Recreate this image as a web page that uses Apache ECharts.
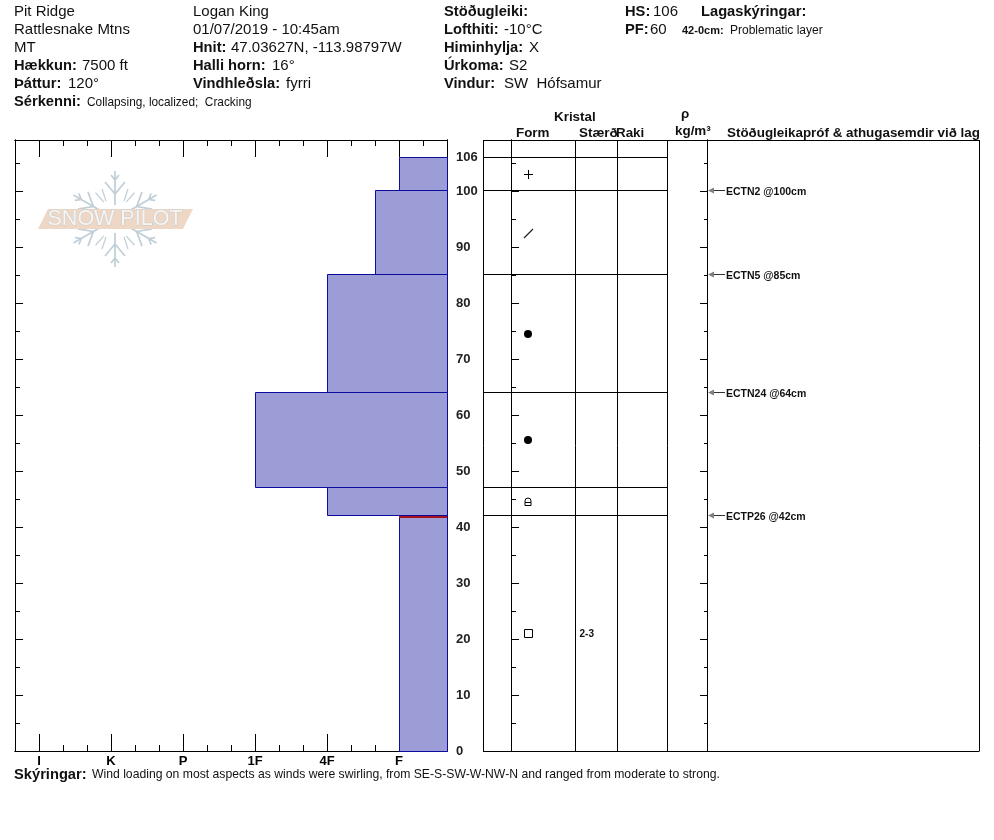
<!DOCTYPE html>
<html>
<head>
<meta charset="utf-8">
<style>
  html, body { margin: 0; padding: 0; background: #fff; }
  #chart { width: 994px; height: 840px; }
</style>
<script src="https://cdn.jsdelivr.net/npm/echarts@6/dist/echarts.min.js"></script>
</head>
<body>
<div id="chart"></div>
<script>
// snow layers, top to bottom (cm), hardness in thirds of a hand hardness step
const layerTop = [106, 100, 85, 64, 47, 42];
const layerBottom = [100, 85, 64, 47, 42, 0];
const layerHardness = [16, 15, 13, 10, 13, 16];
const layerForm = ["PP", "DF", "RG", "RG", "FCxr", "FC"];
const layerSize = ["", "", "", "", "", "2-3"];
const problemDepth = 42;

// stability tests
const testDepth = [100, 85, 64, 42];
const testLabel = ["ECTN2 @100cm", "ECTN5 @85cm", "ECTN24 @64cm", "ECTP26 @42cm"];

// axes
const hardnessTicks = [1, 4, 7, 10, 13, 16];
const hardnessLabels = ["I", "K", "P", "1F", "4F", "F"];
const hardnessMinor = [0, 2, 3, 5, 6, 8, 9, 11, 12, 14, 15, 17, 18];
const depthMajor = [0, 10, 20, 30, 40, 50, 60, 70, 80, 90, 100];
const depthMinor = [5, 15, 25, 35, 45, 55, 65, 75, 85, 95, 105];
const depthLabels = [0, 10, 20, 30, 40, 50, 60, 70, 80, 90, 100, 106];
const tableColumns = [0, 28, 92, 134, 184, 224, 496];

const DEPTH_MAX = 109.1;
const HARD_MAX = 18;
const TABLE_MAX = 496;
const FORM_X = 45;
const SIZE_X = 97;
const RHO_X = 224;

const BLACK = "#000";
const font = "Liberation Sans, Arial, sans-serif";

function hardnessAxis(position, ticks, len, labels) {
  return {
    type: "value", gridIndex: 0, position: position, min: 0, max: HARD_MAX,
    axisLine: { show: true, onZero: false, lineStyle: { color: BLACK, width: 1 } },
    axisTick: { show: true, inside: true, length: len, customValues: ticks, lineStyle: { color: BLACK } },
    splitLine: { show: false },
    axisLabel: labels ? {
      show: true, customValues: hardnessTicks, margin: 4, color: BLACK, fontFamily: font,
      fontWeight: "bold", fontSize: 13,
      formatter: (v) => hardnessLabels[hardnessTicks.indexOf(v)],
    } : { show: false },
  };
}

function depthAxis(grid, position, offset, ticks, len, labels) {
  return {
    type: "value", gridIndex: grid, position: position, offset: offset, min: 0, max: DEPTH_MAX,
    axisLine: { show: true, onZero: false, lineStyle: { color: BLACK, width: 1 } },
    axisTick: { show: true, inside: true, length: len, customValues: ticks, lineStyle: { color: BLACK } },
    splitLine: { show: false },
    axisLabel: labels ? {
      show: true, customValues: depthLabels, margin: 9, color: "#222", fontFamily: font,
      fontWeight: "bold", fontSize: 13, padding: [3, 0, 0, 0], formatter: (v) => String(v),
    } : { show: false },
  };
}

function line(p1, p2, color, width) {
  return {
    type: "line",
    shape: { x1: p1[0], y1: p1[1], x2: p2[0], y2: p2[1] },
    style: { stroke: color || BLACK, lineWidth: width || 1 },
  };
}

function renderLayer(params, api) {
  const i = api.value(0);
  const a = api.coord([layerHardness[i], layerTop[i]]);
  const b = api.coord([HARD_MAX, layerBottom[i]]);
  const x = Math.round(a[0]) + 0.5;
  const y = Math.floor(a[1]) + 0.5;
  return {
    type: "rect",
    shape: { x: x, y: y, width: Math.round(b[0]) + 0.5 - x, height: Math.floor(b[1]) + 0.5 - y },
    style: { fill: "#9c9cd6", stroke: "#0c0c9c", lineWidth: 1 },
  };
}

function renderProblem(params, api) {
  const i = layerBottom.indexOf(problemDepth) + 1;
  const a = api.coord([layerHardness[i], problemDepth]);
  const b = api.coord([HARD_MAX, problemDepth]);
  const y = Math.floor(a[1]) + 2;
  return line([a[0], y], [b[0], y], "#a8101c", 2);
}

function renderColumn(params, api) {
  const x = tableColumns[api.value(0)];
  const a = api.coord([x, 0]);
  const b = api.coord([x, DEPTH_MAX]);
  return line([Math.round(a[0]) + 0.5, a[1]], [Math.round(b[0]) + 0.5, b[1]]);
}

// horizontal table rule: [depth, right end]
function renderRow(params, api) {
  const a = api.coord([tableColumns[0], api.value(0)]);
  const b = api.coord([api.value(1), api.value(0)]);
  const y = Math.floor(a[1]) + 0.5;
  return line([a[0], y], [b[0] + 0.5, y]);
}

function renderForm(params, api) {
  const i = api.value(0);
  const mid = (layerTop[i] + layerBottom[i]) / 2;
  const p = api.coord([FORM_X, mid]);
  const x = Math.round(p[0]);
  const y = Math.round(p[1]);
  const form = layerForm[i];
  const kids = [];
  if (form === "PP") {
    kids.push(line([x - 4, y + 0.5], [x + 5, y + 0.5]), line([x + 0.5, y - 4], [x + 0.5, y + 5]));
  } else if (form === "DF") {
    kids.push(line([x - 4, y + 5], [x + 5, y - 4], "#222", 1.3));
  } else if (form === "RG") {
    kids.push({ type: "circle", shape: { cx: x, cy: y, r: 4 }, style: { fill: BLACK } });
  } else if (form === "FCxr") {
    kids.push({
      type: "path",
      shape: { pathData: `M${x - 3},${y + 3.5}V${y - 1}Q${x - 3},${y - 4} ${x},${y - 4}Q${x + 3},${y - 4} ${x + 3},${y - 1}V${y + 3.5}ZM${x - 3},${y + 0.5}H${x + 3}` },
      style: { fill: "none", stroke: BLACK, lineWidth: 1 },
    });
  } else if (form === "FC") {
    kids.push({ type: "rect", shape: { x: x - 3.5, y: y - 3.5, width: 8, height: 8 }, style: { fill: "#fff", stroke: BLACK, lineWidth: 1 } });
  }
  if (layerSize[i]) {
    const s = api.coord([SIZE_X - 0.5, mid]);
    kids.push({
      type: "text", x: s[0], y: s[1] + 1,
      style: { text: layerSize[i], font: `bold 10px ${font}`, fill: "#111", textVerticalAlign: "middle" },
    });
  }
  return { type: "group", children: kids };
}

function renderTest(params, api) {
  const i = api.value(0);
  const p = api.coord([tableColumns[5], testDepth[i]]);
  const x = p[0];
  const y = Math.floor(p[1]) + 0.5;
  return {
    type: "group",
    children: [
      { type: "polygon", shape: { points: [[x + 1, y], [x + 7, y - 3], [x + 7, y + 3]] }, style: { fill: "#808080" } },
      line([x + 7, y], [x + 18, y], "#333"),
      {
        type: "text", x: x + 19, y: y + 1.5,
        style: { text: testLabel[i], font: `bold 10.5px ${font}`, fill: "#111", textVerticalAlign: "middle" },
      },
    ],
  };
}

function indexes(arr) {
  return arr.map((_, i) => [i]);
}

function txt(x, y, text, weight, size) {
  const sz = size || (weight === "bold" ? 14.7 : 15);
  return {
    type: "text", x: x, y: y, silent: true,
    style: { text: text, font: `${weight || "normal"} ${sz}px ${font}`, fill: "#111", textVerticalAlign: "middle" },
  };
}

// snowflake arm, pointing up from the logo centre
function flakeArm(deg) {
  const c = "#c0ced6";
  const seg = (x1, y1, x2, y2, w) => ({
    type: "line", shape: { x1, y1, x2, y2 }, style: { stroke: c, lineWidth: w || 1.7 },
  });
  return {
    type: "group", rotation: (deg * Math.PI) / 180,
    children: [
      seg(0, -14, 0, -48),
      seg(0, -25, -10, -37), seg(0, -25, 10, -37),
      seg(0, -39, -4, -44), seg(0, -39, 4, -44),
      seg(-9, -18, -13, -30, 1.2), seg(9, -18, 13, -30, 1.2),
    ],
  };
}

const logo = {
  type: "group", x: 115, y: 219, silent: true, z: 0,
  children: [
    ...[0, 60, 120, 180, 240, 300].map(flakeArm),
    {
      type: "polygon",
      shape: { points: [[-67, -10], [78, -10], [68, 10], [-77, 10]] },
      style: { fill: "#eed7c5" },
    },
    {
      type: "text", x: 0, y: 0,
      style: {
        text: "SNOW PILOT", font: `21.5px ${font}`, fill: "#f7f4f1", stroke: "#c5ccd0", lineWidth: 1,
        align: "center", verticalAlign: "middle",
      },
    },
  ],
};

const headerText = [
  txt(14, 12, "Pit Ridge"),
  txt(14, 30, "Rattlesnake Mtns"),
  txt(14, 48, "MT"),
  txt(14, 66, "Hækkun:", "bold"), txt(82, 66, "7500 ft"),
  txt(14, 84, "Þáttur:", "bold"), txt(68, 84, "120°"),
  txt(14, 102, "Sérkenni:", "bold"), txt(87, 103, "Collapsing, localized;  Cracking", "normal", 11.85),

  txt(193, 12, "Logan King"),
  txt(193, 30, "01/07/2019 - 10:45am"),
  txt(193, 48, "Hnit:", "bold"), txt(231, 48, "47.03627N, -113.98797W"),
  txt(193, 66, "Halli horn:", "bold"), txt(272, 66, "16°"),
  txt(193, 84, "Vindhleðsla:", "bold"), txt(286, 84, "fyrri"),

  txt(444, 12, "Stöðugleiki:", "bold"),
  txt(444, 30, "Lofthiti:", "bold"), txt(504, 30, "-10°C"),
  txt(444, 48, "Himinhylja:", "bold"), txt(529, 48, "X"),
  txt(444, 66, "Úrkoma:", "bold"), txt(509, 66, "S2"),
  txt(444, 84, "Vindur:", "bold"), txt(504, 84, "SW  Hófsamur"),

  txt(625, 12, "HS:", "bold"), txt(653, 12, "106"),
  txt(701, 12, "Lagaskýringar:", "bold"),
  txt(625, 30, "PF:", "bold"), txt(650, 30, "60"),
  txt(682, 31, "42-0cm:", "bold", 11), txt(730, 31, "Problematic layer", "normal", 12),

  txt(554, 117, "Kristal", "bold", 13.4),
  txt(516, 133, "Form", "bold", 13.4),
  txt(579, 133, "Stærð", "bold", 13.4),
  txt(616, 133, "Raki", "bold", 13.4),
  txt(681, 114, "ρ", "bold", 13.4),
  txt(675, 131, "kg/m³", "bold", 13.4),
  txt(727, 133, "Stöðugleikapróf & athugasemdir við lag", "bold", 13.4),

  txt(14, 775, "Skýringar:", "bold"),
  txt(92, 775, "Wind loading on most aspects as winds were swirling, from SE-S-SW-W-NW-N and ranged from moderate to strong.", "normal", 12.2),
];

const chart = echarts.init(document.getElementById("chart"), null, { renderer: "canvas" });
chart.setOption({
  animation: false,
  backgroundColor: "#fff",
  grid: [
    { left: 15, top: 140, width: 432, height: 611 },
    { left: 483, top: 140, width: 496, height: 611 },
  ],
  xAxis: [
    hardnessAxis("bottom", hardnessTicks, 17, true),
    hardnessAxis("bottom", hardnessMinor, 6),
    hardnessAxis("top", hardnessTicks, 17),
    hardnessAxis("top", hardnessMinor, 6),
    { type: "value", gridIndex: 1, min: 0, max: TABLE_MAX, show: false },
  ],
  yAxis: [
    depthAxis(0, "left", 0, depthMajor, 8),
    depthAxis(0, "left", 0, depthMinor, 5),
    depthAxis(0, "right", 0, depthMajor, 8, true),
    depthAxis(0, "right", 0, depthMinor, 5),
    depthAxis(1, "left", -28, depthMajor, 8),
    depthAxis(1, "left", -28, depthMinor, 5),
    depthAxis(1, "right", -(TABLE_MAX - RHO_X), depthMajor, 7),
    depthAxis(1, "right", -(TABLE_MAX - RHO_X), depthMinor, 3),
  ],
  graphic: { elements: [logo, ...headerText] },
  series: [
    { type: "custom", name: "layers", xAxisIndex: 0, yAxisIndex: 0, renderItem: renderLayer, data: indexes(layerTop), z: 1, clip: false, silent: true },
    { type: "custom", name: "problem", xAxisIndex: 0, yAxisIndex: 0, renderItem: renderProblem, data: [[0]], z: 2, clip: false, silent: true },
    { type: "custom", name: "columns", xAxisIndex: 4, yAxisIndex: 4, renderItem: renderColumn, data: indexes(tableColumns), z: 1, clip: false, silent: true },
    {
      type: "custom", name: "rows", xAxisIndex: 4, yAxisIndex: 4, renderItem: renderRow, z: 1, clip: false, silent: true,
      data: layerTop.concat([problemDepth]).map((d) => [d, tableColumns[4]]).concat([[0, TABLE_MAX], [DEPTH_MAX, TABLE_MAX]]),
    },
    { type: "custom", name: "forms", xAxisIndex: 4, yAxisIndex: 4, renderItem: renderForm, data: indexes(layerForm), z: 3, clip: false, silent: true },
    { type: "custom", name: "tests", xAxisIndex: 4, yAxisIndex: 4, renderItem: renderTest, data: indexes(testDepth), z: 3, clip: false, silent: true },
  ],
});
</script>
</body>
</html>
